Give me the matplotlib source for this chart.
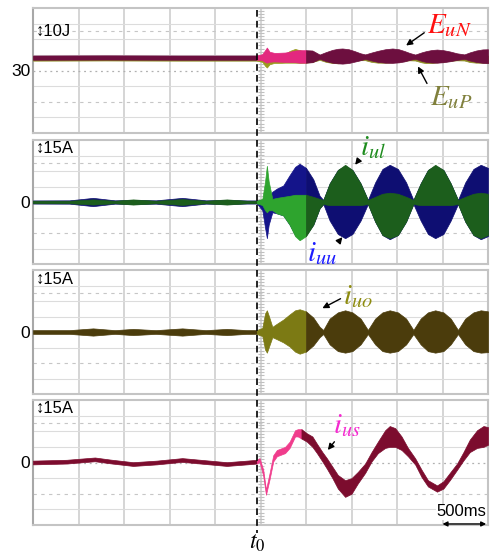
import numpy as np
import matplotlib
matplotlib.use('Agg')
import matplotlib.pyplot as plt
from matplotlib import transforms
from matplotlib.lines import Line2D

plt.rcParams['font.family'] = ['Liberation Sans', 'DejaVu Sans']
plt.rcParams['mathtext.fontset'] = 'stix'

T0 = 2.46      # fault instant (s)
T_END = 5.0    # 10 div x 500 ms

# ---- panel 1: arm energies E_uN / E_uP (J), 10 J/div, centre 30 J ----
t_e = [0, 0.8, 1.6, 2.46, 2.52, 2.55, 2.57, 2.60, 2.65, 2.69,
       2.77, 2.82, 2.88, 2.93, 3.0, 3.07, 3.15, 3.22, 3.29, 3.35,
       3.40, 3.47, 3.53, 3.60, 3.65, 3.72, 3.79, 3.87, 3.95, 4.02,
       4.08, 4.14, 4.20, 4.27, 4.32, 4.38, 4.44, 4.51, 4.58, 4.66,
       4.74, 4.80, 4.87, 4.94, 5.0]
euN_lo = [36.9, 37.0, 36.9, 36.9, 36.5, 35.5, 35.0, 35.6, 35.8, 35.7,
          35.5, 35.4, 35.3, 35.0, 35.0, 35.3, 37.5, 36.0, 35.0, 34.6,
          34.4, 34.8, 35.6, 36.6, 37.4, 36.4, 35.5, 35.0, 34.9, 35.2,
          35.8, 36.8, 37.5, 36.2, 35.5, 35.1, 35.0, 35.3, 35.9, 36.8,
          37.5, 36.4, 35.5, 34.9, 34.7]
euN_hi = [39.6, 39.7, 39.6, 39.6, 40.5, 43.0, 44.7, 42.0, 41.3, 41.3,
          41.5, 42.0, 42.8, 43.0, 43.0, 42.8, 40.2, 41.8, 43.2, 43.9,
          44.1, 43.6, 42.5, 41.0, 40.3, 41.5, 42.6, 43.6, 44.1, 43.6,
          42.5, 41.2, 40.2, 41.6, 42.4, 43.1, 43.4, 43.0, 42.2, 41.0,
          40.3, 41.6, 42.8, 43.5, 43.6]
euP_lo = [36.3, 36.4, 36.3, 36.3, 35.5, 33.0, 31.9, 34.0, 34.8, 34.8,
          35.0, 35.0, 35.0, 34.9, 35.0, 35.5, 36.8, 35.5, 34.8, 34.6,
          34.8, 35.4, 36.2, 36.6, 36.6, 35.5, 35.0, 35.0, 35.2, 35.6,
          36.2, 36.5, 36.4, 35.2, 34.7, 34.8, 35.2, 35.6, 36.2, 36.5,
          36.4, 35.4, 35.0, 35.0, 35.0]
euP_hi = [39.0, 39.0, 39.0, 39.0, 39.5, 40.0, 38.5, 39.0, 39.5, 39.5,
          40.5, 42.5, 43.8, 43.0, 42.0, 41.0, 39.5, 39.5, 39.5, 39.5,
          39.5, 39.5, 39.5, 39.5, 39.5, 39.5, 39.5, 39.5, 39.5, 39.5,
          39.5, 39.5, 39.5, 39.5, 39.5, 39.5, 39.5, 39.5, 39.5, 39.5,
          39.5, 39.5, 39.5, 39.5, 39.5]

# ---- panels 2 and 3: arm currents (A), 15 A/div ----
t_arm = [0.00, 0.40, 0.66, 0.90, 1.10, 1.35, 1.64, 1.90, 2.13, 2.35,
         2.46, 2.52, 2.55, 2.57, 2.59, 2.63, 2.68, 2.75, 2.82, 2.88,
         2.93, 3.00, 3.08, 3.15, 3.19,
         3.26, 3.35, 3.43, 3.51, 3.60, 3.68,
         3.76, 3.84, 3.92, 4.01, 4.10, 4.18,
         4.26, 4.34, 4.42, 4.51, 4.59, 4.67,
         4.75, 4.84, 4.92, 5.00]
iuu_hi = [1.5, 1.6, 4.0, 1.6, 2.0, 1.6, 4.0, 1.6, 2.0, 1.5,
          1.5, 2, 3, 4, 5, 10, 13, 16, 26, 34,
          37, 33, 22, 6, 2,
          18, 31, 35, 31, 18, 2,
          19, 32, 36, 32, 19, 2,
          18, 31, 35, 31, 18, 2,
          19, 32, 36, 33]
iuu_lo = [-1.5, -1.6, -4.0, -1.6, -2.0, -1.6, -4.0, -1.6, -2.0, -1.5,
          -1.5, -8, -25, -35, -22, -10, -11, -13, -22, -32,
          -36, -32, -22, -6, -2,
          -18, -31, -35, -31, -18, -2,
          -19, -32, -36, -32, -19, -2,
          -18, -31, -35, -31, -18, -2,
          -19, -32, -36, -33]
iul_hi = [1.2, 1.2, 2.5, 1.2, 2.5, 1.2, 2.8, 1.2, 2.5, 1.2,
          1.2, 3, 20, 35, 20, 3, 4, 5, 6, 7,
          7, 7, 5, 3, 2,
          18, 31, 36, 31, 18, 2,
          5, 8, 9, 8, 5, 2,
          18, 31, 36, 31, 18, 2,
          5, 8, 9, 8]
iul_lo = [-1.2, -1.2, -2.5, -1.2, -2.5, -1.2, -2.8, -1.2, -2.5, -1.2,
          -1.2, -3, -8, -10, -8, -8, -11, -13, -22, -33,
          -37, -33, -22, -6, -2,
          -3, -3, -3, -3, -3, -2,
          -19, -32, -35, -32, -19, -2,
          -3, -3, -3, -3, -3, -2,
          -19, -32, -35, -32]
iuo_hi = [1.8, 1.8, 3.5, 1.8, 3.0, 1.8, 3.5, 1.8, 3.0, 1.8,
          1.8, 4, 18, 21, 16, 5, 8, 12, 17, 21,
          22, 20, 14, 5, 2,
          13, 19, 21, 19, 13, 2,
          13, 19, 21, 19, 13, 2,
          13, 19, 21, 19, 13, 2,
          13, 19, 21, 20]
iuo_lo = [-1.8, -1.8, -3.5, -1.8, -3.0, -1.8, -3.5, -1.8, -3.0, -1.8,
          -1.8, -4, -17, -20, -15, -5, -7, -10, -14, -19,
          -21, -19, -13, -5, -2,
          -12, -18.5, -20, -18.5, -12, -2,
          -12, -18.5, -20, -18.5, -12, -2,
          -12, -18.5, -20, -18.5, -12, -2,
          -12, -18.5, -20, -19.5]

# ---- panel 4: i_us (A), 15 A/div ----
t_s = [0.00, 0.37, 0.68, 0.85, 1.10, 1.36, 1.64, 1.84, 2.13, 2.35,
       2.46, 2.49, 2.53, 2.56, 2.60, 2.64, 2.68, 2.77, 2.82, 2.88,
       2.91, 2.95, 3.01, 3.07, 3.12, 3.18, 3.23, 3.29, 3.35, 3.43,
       3.50, 3.57, 3.65, 3.72, 3.79, 3.87, 3.92, 3.98, 4.05, 4.12,
       4.20, 4.27, 4.34, 4.44, 4.51, 4.58, 4.66, 4.73, 4.80, 4.88,
       4.95, 5.00]
ius_hi = [1.8, 2.6, 4.8, 2.8, 0.3, 1.8, 4.2, 2.6, 0.3, 1.8,
          2.6, 4.2, -7, -26, -10, 7, 12, 15, 20, 31,
          32, 32, 28, 25, 18, 10, 4, -4, -12, -17,
          -15, -9, -1, 10, 20, 31, 35, 33, 25, 14,
          4, -7, -17, -22, -18, -10, -1, 10, 22, 31,
          35, 34]
ius_lo = [-1.8, -1.0, 1.2, -0.8, -3.3, -1.8, 0.6, -1.0, -3.3, -1.8,
          -1.0, 0.6, -13, -31, -16, 1, 6, 9, 14, 25,
          25, 23, 20, 15, 9, 1, -6, -15, -25, -33,
          -30, -20, -10, 1, 9, 14, 15, 15, 12, 6,
          -2, -14, -23, -28, -25, -17, -7, 2, 10, 14,
          15, 17]


def fill_trace(ax, t, lo, hi, dark, bright, t_sw):
    t = np.asarray(t)
    lo = np.asarray(lo)
    hi = np.asarray(hi)
    for mask, col in [(t <= T0, dark), ((t >= T0) & (t <= t_sw), bright), (t >= t_sw, dark)]:
        ax.fill_between(t, lo, hi, where=mask, color=col, ec=col, lw=0.5, zorder=3)


def scope_grid(ax, center, div):
    ax.set_xlim(0, T_END)
    ax.set_ylim(center - 4 * div, center + 4 * div)
    for k in range(1, 10):
        ax.axvline(k * 0.5, color='#d2d2d2', lw=1.3, zorder=0)
    for k in (-3, -1, 1, 2, 3):
        ax.axhline(center + k * div, color='#dcdcdc', lw=0.8, zorder=0)
    for k in (-2, 2.5):
        ax.axhline(center + k * div, color='#c6c6c6', lw=0.8, ls=(0, (3, 4)), zorder=0)
    ax.axhline(center, color='#b0b0b0', lw=0.9, ls=(0, (1.5, 3)), zorder=0)
    ax.plot(np.full(41, 2.5), center + div * np.arange(-4, 4.01, 0.2), ls='none',
            marker='_', ms=5, mew=0.8, color='#c0c0c0', zorder=0)
    ax.set_xticks([])
    ax.set_yticks([center])
    ax.set_yticklabels(['30' if center else '0'])
    ax.tick_params(axis='y', length=0, pad=2, labelsize=12.5)
    for s in ax.spines.values():
        s.set_color('#c4c4c4')
        s.set_linewidth(1.5)
    ax.spines['left'].set_color('#a8a8a8')


fig = plt.figure(figsize=(4.9, 5.58), dpi=100)
W, H = 490, 558
boxes = [(8, 133), (140, 264), (270, 394), (400, 525)]
axes = []
for top, bot in boxes:
    axes.append(fig.add_axes([33 / W, 1 - bot / H, 455 / W, (bot - top) / H]))
ax1, ax2, ax3, ax4 = axes

# panel 1
scope_grid(ax1, 30, 10)
fill_trace(ax1, t_e, euP_lo, euP_hi, '#8c8a22', '#9a9a1c', 3.0)
fill_trace(ax1, t_e, euN_lo, euN_hi, '#6d0f3f', '#e3287f', 3.0)
ax1.text(0.007, 0.815, '↕10J', transform=ax1.transAxes, fontsize=12, va='center', ha='left')
ax1.annotate(r'$E_{uN}$', xy=(4.10, 46), xytext=(4.33, 59), color='#ff1010', fontsize=21,
             va='center', ha='left',
             arrowprops=dict(arrowstyle='-|>', color='black', lw=1, mutation_scale=9,
                             shrinkA=0, shrinkB=0, relpos=(0, 0.3)))
ax1.annotate(r'$E_{uP}$', xy=(4.23, 32.6), xytext=(4.36, 13), color='#80803c', fontsize=21,
             va='center', ha='left',
             arrowprops=dict(arrowstyle='-|>', color='black', lw=1, mutation_scale=9,
                             shrinkA=0, shrinkB=0, relpos=(0, 0.8)))

# panel 2
scope_grid(ax2, 0, 15)
fill_trace(ax2, t_arm, iuu_lo, iuu_hi, '#0e0e72', '#14148a', 3.0)
fill_trace(ax2, t_arm, iul_lo, iul_hi, '#1c5e1c', '#2ea42e', 3.0)
ax2.text(0.007, 0.93, '↕15A', transform=ax2.transAxes, fontsize=12, va='center', ha='left')
ax2.annotate(r'$i_{ul}$', xy=(3.54, 36), xytext=(3.59, 53), color='#1e8c1e', fontsize=21,
             va='center', ha='left', annotation_clip=False,
             arrowprops=dict(arrowstyle='-|>', color='black', lw=1, mutation_scale=9,
                             shrinkA=0, shrinkB=0, relpos=(0.1, 0.2)))
ax2.annotate(r'$i_{uu}$', xy=(3.40, -34), xytext=(3.01, -49), color='#1c1cff', fontsize=21,
             va='center', ha='left',
             arrowprops=dict(arrowstyle='-|>', color='black', lw=1, mutation_scale=9,
                             shrinkA=0, shrinkB=0, relpos=(0.95, 0.75)))

# panel 3
scope_grid(ax3, 0, 15)
fill_trace(ax3, t_arm, iuo_lo, iuo_hi, '#4b3c0c', '#7c7a14', 3.0)
ax3.text(0.007, 0.92, '↕15A', transform=ax3.transAxes, fontsize=12, va='center', ha='left')
ax3.annotate(r'$i_{uo}$', xy=(3.18, 23), xytext=(3.41, 35), color='#8e8c10', fontsize=21,
             va='center', ha='left',
             arrowprops=dict(arrowstyle='-|>', color='black', lw=1, mutation_scale=9,
                             shrinkA=0, shrinkB=0, relpos=(0, 0.45)))

# panel 4
scope_grid(ax4, 0, 15)
fill_trace(ax4, t_s, ius_lo, ius_hi, '#7c0c2e', '#f03c8c', 2.95)
ax4.text(0.007, 0.93, '↕15A', transform=ax4.transAxes, fontsize=12, va='center', ha='left')
ax4.annotate(r'$i_{us}$', xy=(3.24, 12), xytext=(3.30, 36), color='#f52ad0', fontsize=21,
             va='center', ha='left',
             arrowprops=dict(arrowstyle='-|>', color='black', lw=1, mutation_scale=9,
                             shrinkA=0, shrinkB=0, relpos=(0.2, 0.1)))
ax4.text(0.997, 0.105, '500ms', transform=ax4.transAxes, fontsize=12, ha='right', va='center',
         zorder=6, bbox=dict(fc='white', ec='none', pad=0.5))
ax4.annotate('', xy=(4.5, -59), xytext=(4.98, -59),
             arrowprops=dict(arrowstyle='<|-|>', color='black', lw=1, mutation_scale=7,
                             shrinkA=0, shrinkB=0), annotation_clip=False)

# t0 marker across all panels
trans = transforms.blended_transform_factory(ax4.transData, fig.transFigure)
fig.add_artist(Line2D([T0, T0], [1 - 10 / H, 1 - 533 / H], transform=trans,
                      color='black', lw=1.2, ls=(0, (4, 2.5)), zorder=10))
fig.text(T0, 1 - 543 / H, r'$t_0$', transform=trans, fontsize=17, ha='center', va='center')

fig.savefig('out.png', dpi=100)
